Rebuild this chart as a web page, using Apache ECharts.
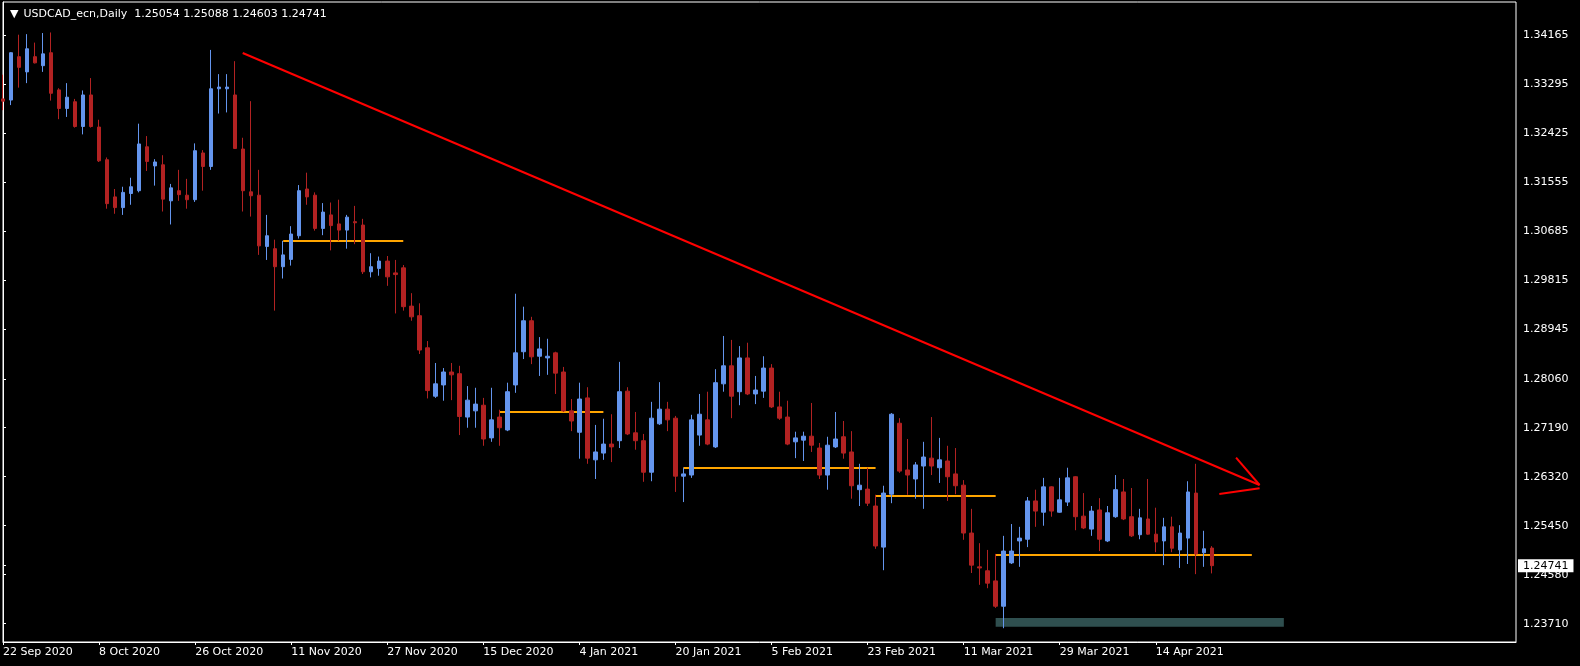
<!DOCTYPE html>
<html><head><meta charset="utf-8">
<script src="https://cdn.jsdelivr.net/npm/echarts@6/dist/echarts.min.js"></script>
<style>html,body{margin:0;padding:0;background:#000;overflow:hidden}#c{width:1580px;height:666px}</style>
</head><body><div id="c"></div>
<script>
// ---------------- data ----------------
const symbolName = 'USDCAD_ecn,Daily';
const startDate = '2020-09-22';
const holidays = ['2020-12-25', '2021-01-01'];
const slotCount = 190;            // bars + empty right margin (MT4 shift)
const labelEvery = 12;
// each candle: [open, close, low, high]
const candles = [
[1.3303,1.3299,1.3283,1.3346],[1.3301,1.3385,1.3292,1.3386],[1.3378,1.3359,1.3323,1.3417],[1.3351,1.3392,1.3331,1.3418],
[1.3378,1.3367,1.3366,1.3403],[1.3362,1.3383,1.3351,1.3420],[1.3385,1.3313,1.3300,1.3421],[1.3319,1.3286,1.3267,1.3322],
[1.3286,1.3306,1.3271,1.3331],[1.3298,1.3254,1.3252,1.3303],[1.3254,1.3310,1.3240,1.3318],[1.3310,1.3254,1.3252,1.3340],
[1.3253,1.3193,1.3191,1.3266],[1.3195,1.3117,1.3108,1.3199],[1.3129,1.3110,1.3099,1.3143],[1.3110,1.3137,1.3097,1.3147],
[1.3135,1.3147,1.3115,1.3163],[1.3140,1.3223,1.3137,1.3259],[1.3218,1.3192,1.3175,1.3237],[1.3184,1.3191,1.3149,1.3196],
[1.3186,1.3125,1.3103,1.3203],[1.3122,1.3145,1.3080,1.3152],[1.3140,1.3133,1.3122,1.3177],[1.3132,1.3124,1.3108,1.3161],
[1.3124,1.3211,1.3120,1.3224],[1.3207,1.3183,1.3140,1.3212],[1.3183,1.3321,1.3177,1.3390],[1.3321,1.3324,1.3277,1.3347],
[1.3321,1.3324,1.3279,1.3347],[1.3310,1.3215,1.3214,1.3370],[1.3214,1.3140,1.3103,1.3234],[1.3138,1.3131,1.3094,1.3299],
[1.3132,1.3042,1.3026,1.3177],[1.3041,1.3060,1.3017,1.3097],[1.3037,1.3005,1.2927,1.3053],[1.3005,1.3026,1.2984,1.3051],
[1.3018,1.3063,1.3007,1.3077],[1.3060,1.3140,1.3055,1.3150],[1.3143,1.3129,1.3115,1.3172],[1.3132,1.3073,1.3069,1.3137],
[1.3073,1.3102,1.3061,1.3118],[1.3097,1.3078,1.3034,1.3119],[1.3081,1.3070,1.3051,1.3124],[1.3070,1.3093,1.3037,1.3097],
[1.3085,1.3083,1.3045,1.3113],[1.3079,1.2996,1.2992,1.3090],[1.2996,1.3005,1.2986,1.3029],[1.3002,1.3015,1.2989,1.3023],
[1.3015,1.2987,1.2971,1.3024],[1.2994,1.2991,1.2922,1.3017],[1.3003,1.2934,1.2927,1.3008],[1.2935,1.2916,1.2909,1.2958],
[1.2918,1.2857,1.2850,1.2940],[1.2861,1.2785,1.2771,1.2873],[1.2775,1.2797,1.2772,1.2834],[1.2795,1.2818,1.2767,1.2825],
[1.2818,1.2813,1.2768,1.2834],[1.2815,1.2739,1.2706,1.2829],[1.2738,1.2768,1.2719,1.2793],[1.2749,1.2761,1.2719,1.2790],
[1.2759,1.2699,1.2687,1.2772],[1.2701,1.2733,1.2694,1.2790],[1.2738,1.2719,1.2687,1.2751],[1.2715,1.2783,1.2713,1.2799],
[1.2795,1.2852,1.2781,1.2957],[1.2854,1.2909,1.2841,1.2934],[1.2909,1.2845,1.2832,1.2916],[1.2846,1.2859,1.2811,1.2880],
[1.2843,1.2846,1.2813,1.2877],[1.2852,1.2816,1.2779,1.2854],[1.2818,1.2749,1.2747,1.2827],[1.2749,1.2731,1.2713,1.2770],
[1.2711,1.2770,1.2664,1.2799],[1.2772,1.2665,1.2655,1.2791],[1.2662,1.2676,1.2628,1.2724],[1.2674,1.2690,1.2662,1.2735],
[1.2690,1.2685,1.2658,1.2743],[1.2696,1.2783,1.2683,1.2836],[1.2784,1.2708,1.2706,1.2791],[1.2710,1.2696,1.2680,1.2747],
[1.2696,1.2640,1.2623,1.2708],[1.2640,1.2736,1.2624,1.2765],[1.2726,1.2752,1.2724,1.2800],[1.2752,1.2733,1.2713,1.2765],
[1.2736,1.2633,1.2605,1.2740],[1.2633,1.2637,1.2587,1.2648],[1.2635,1.2733,1.2630,1.2742],[1.2706,1.2743,1.2687,1.2779],
[1.2733,1.2690,1.2688,1.2783],[1.2685,1.2799,1.2683,1.2823],[1.2797,1.2829,1.2783,1.2882],[1.2829,1.2775,1.2736,1.2875],
[1.2783,1.2843,1.2759,1.2864],[1.2843,1.2779,1.2777,1.2870],[1.2779,1.2786,1.2761,1.2811],[1.2784,1.2825,1.2772,1.2846],
[1.2825,1.2756,1.2754,1.2832],[1.2756,1.2736,1.2733,1.2783],[1.2738,1.2690,1.2688,1.2767],[1.2694,1.2701,1.2665,1.2712],
[1.2697,1.2704,1.2660,1.2712],[1.2704,1.2688,1.2676,1.2763],[1.2683,1.2635,1.2628,1.2692],[1.2635,1.2688,1.2609,1.2703],
[1.2685,1.2699,1.2683,1.2747],[1.2703,1.2674,1.2664,1.2731],[1.2676,1.2616,1.2593,1.2713],[1.2609,1.2617,1.2580,1.2655],
[1.2610,1.2585,1.2580,1.2648],[1.2580,1.2509,1.2504,1.2600],[1.2507,1.2603,1.2466,1.2616],[1.2601,1.2743,1.2585,1.2745],
[1.2727,1.2642,1.2639,1.2736],[1.2644,1.2635,1.2600,1.2699],[1.2628,1.2653,1.2593,1.2658],[1.2651,1.2667,1.2575,1.2694],
[1.2665,1.2651,1.2635,1.2738],[1.2648,1.2662,1.2621,1.2701],[1.2660,1.2632,1.2589,1.2687],[1.2637,1.2616,1.2601,1.2683],
[1.2617,1.2532,1.2520,1.2626],[1.2532,1.2475,1.2461,1.2575],[1.2472,1.2470,1.2440,1.2514],[1.2465,1.2443,1.2434,1.2502],
[1.2447,1.2402,1.2399,1.2495],[1.2402,1.2500,1.2363,1.2527],[1.2479,1.2500,1.2477,1.2548],[1.2518,1.2523,1.2472,1.2543],
[1.2521,1.2589,1.2507,1.2596],[1.2589,1.2571,1.2543,1.2609],[1.2569,1.2614,1.2545,1.2630],[1.2614,1.2571,1.2561,1.2615],
[1.2569,1.2591,1.2568,1.2630],[1.2587,1.2630,1.2580,1.2648],[1.2632,1.2561,1.2537,1.2633],[1.2562,1.2541,1.2539,1.2603],
[1.2539,1.2571,1.2527,1.2580],[1.2573,1.2521,1.2500,1.2594],[1.2518,1.2568,1.2516,1.2580],[1.2561,1.2609,1.2559,1.2635],
[1.2605,1.2557,1.2555,1.2628],[1.2561,1.2527,1.2525,1.2612],[1.2529,1.2559,1.2521,1.2575],[1.2557,1.2530,1.2529,1.2628],
[1.2530,1.2516,1.2498,1.2577],[1.2518,1.2543,1.2475,1.2559],[1.2543,1.2505,1.2498,1.2561],[1.2502,1.2532,1.2470,1.2546],
[1.2523,1.2605,1.2477,1.2624],[1.2603,1.2495,1.2459,1.2655],[1.2497,1.2504,1.2472,1.2536],[1.25054,1.24741,1.24603,1.25088]
];
const yTicks = [1.23710,1.24580,1.25450,1.26320,1.27190,1.28060,1.28945,1.29815,1.30685,1.31555,1.32425,1.33295,1.34165];
const yMin = 1.23385, yMax = 1.34751;
// drawn objects, in [bar index, price]
const trendLine = [[29.94, 1.33846], [156.97, 1.26173]];
const arrowHead = [
  [[154.03, 1.26658], [156.97, 1.26173]],
  [[151.94, 1.26014], [156.97, 1.26115]]
];
// [fromIndex, toIndex, price]
const levels = [[35, 50, 1.30519], [62, 75, 1.27475], [85, 109, 1.26481], [109, 124, 1.25983], [124, 156, 1.24930]];
// [fromIndex, toIndex, topPrice, bottomPrice]
const supportZone = [124, 160, 1.23811, 1.23657];

// ---------------- build ----------------
const MONTHS = ['Jan','Feb','Mar','Apr','May','Jun','Jul','Aug','Sep','Oct','Nov','Dec'];
const categories = [];
(function () {
  const d = new Date(startDate + 'T00:00:00Z');
  while (categories.length < slotCount) {
    const wd = d.getUTCDay();
    const iso = d.toISOString().slice(0, 10);
    if (wd !== 0 && wd !== 6 && holidays.indexOf(iso) < 0) {
      categories.push(d.getUTCDate() + ' ' + MONTHS[d.getUTCMonth()] + ' ' + d.getUTCFullYear());
    }
    d.setUTCDate(d.getUTCDate() + 1);
  }
})();
const last = candles[candles.length - 1];
const lastClose = last[1];
const showIdx = (i) => i % labelEvery === 0 && i < candles.length;
const FONT = 'DejaVu Sans';
const BULL = '#6495ED', BEAR = '#B22222';

const chart = echarts.init(document.getElementById('c'), null, { renderer: 'canvas' });
chart.setOption({
  backgroundColor: '#000000',
  animation: false,
  title: {
    left: 5, top: 4,
    text: '{t|▼}{s|' + symbolName + '  ' + [last[0], last[3], last[2], last[1]].map(v => v.toFixed(5)).join(' ') + '}',
    textStyle: {
      fontWeight: 'normal',
      rich: {
        t: { color: '#fff', fontSize: 11, fontWeight: 'normal', fontFamily: FONT, padding: [0, 5, 0, 0] },
        s: { color: '#fff', fontSize: 11, fontWeight: 'normal', fontFamily: FONT }
      }
    }
  },
  grid: { left: 3, right: 64, top: 2, bottom: 24, show: true, borderColor: '#ffffff', borderWidth: 1, backgroundColor: '#000' },
  xAxis: [{
    type: 'category', data: categories, boundaryGap: false,
    axisLine: { show: true, lineStyle: { color: '#fff', width: 1 } },
    axisTick: { show: true, interval: (i) => showIdx(i), length: 3, lineStyle: { color: '#fff' } },
    axisLabel: { interval: (i) => showIdx(i), color: '#fff', fontFamily: FONT, fontSize: 11, align: 'left', margin: 5 },
    splitLine: { show: false }
  }, {
    type: 'value', min: 0, max: slotCount - 1, show: false
  }],
  yAxis: {
    type: 'value', position: 'right', min: yMin, max: yMax, scale: true,
    axisLine: { show: true, lineStyle: { color: '#fff' } },
    axisTick: { show: true, length: 3, lineStyle: { color: '#fff' }, customValues: yTicks.concat([lastClose]) },
    axisLabel: { color: '#fff', fontFamily: FONT, fontSize: 11, margin: 7, customValues: yTicks, formatter: (v) => v.toFixed(5) },
    splitLine: { show: false }
  },
  series: [{
    type: 'candlestick',
    data: candles,
    barWidth: 4,
    itemStyle: { color: BULL, color0: BEAR, borderColor: BULL, borderColor0: BEAR, borderWidth: 1 }
  }, {
    type: 'lines', coordinateSystem: 'cartesian2d', xAxisIndex: 1, yAxisIndex: 0, silent: true,
    lineStyle: { color: '#FFA500', width: 2, opacity: 1 },
    data: levels.map(l => ({ coords: [[l[0], l[2]], [l[1], l[2]]] }))
  }, {
    type: 'line', xAxisIndex: 1, yAxisIndex: 0, silent: true, symbol: 'none',
    lineStyle: { color: '#FF0000', width: 2 },
    data: trendLine,
    markArea: {
      silent: true,
      itemStyle: { color: '#2F4F4F' },
      data: [[{ coord: [supportZone[0], supportZone[2]] }, { coord: [supportZone[1], supportZone[3]] }]]
    }
  }, {
    type: 'lines', coordinateSystem: 'cartesian2d', xAxisIndex: 1, yAxisIndex: 0, silent: true,
    lineStyle: { color: '#FF0000', width: 2, opacity: 1 },
    data: arrowHead.map(a => ({ coords: a }))
  }, {
    // current price tag on the right axis
    type: 'scatter', xAxisIndex: 1, yAxisIndex: 0, silent: true, clip: false,
    symbolSize: 0, z: 10,
    itemStyle: { opacity: 1, color: '#fff' },
    data: [[slotCount - 1, lastClose]],
    label: {
      show: true, position: 'right', distance: 2, opacity: 1,
      formatter: () => lastClose.toFixed(5),
      color: '#000', backgroundColor: '#ffffff', padding: [1, 5, 1, 5],
      fontFamily: FONT, fontSize: 11, lineHeight: 11
    }
  }]
});
</script>
</body></html>
